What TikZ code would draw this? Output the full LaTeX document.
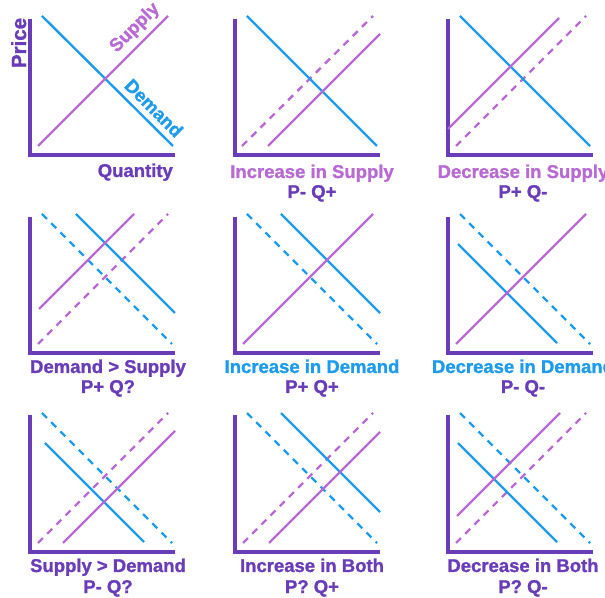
\documentclass[tikz,border=0pt]{standalone}
\usepackage{fontspec}
\setmainfont{Liberation Sans}[BoldFeatures={RawFeature={embolden=1.3}}]
\usetikzlibrary{positioning}
\definecolor{plum}{HTML}{6A3DB8}
\definecolor{lilac}{HTML}{B76BD2}
\definecolor{sky}{HTML}{1E9BEA}
\tikzset{
  axes/.style ={draw=plum,line width=3.2pt},
  sup/.style  ={draw=lilac,line width=2.4pt},
  dem/.style  ={draw=sky,line width=2.4pt},
  old/.style  ={dash pattern=on 7pt off 6pt},
  ttl/.style  ={font=\bfseries\fontsize{18.5}{20}\selectfont,anchor=base,inner sep=0pt},
  eff/.style  ={ttl,text=plum},
}

\begin{document}
\begin{tikzpicture}[x=1pt,y=1pt]
  \useasboundingbox (0,0) rectangle (605,597);

  % --- base market ---
  \begin{scope}[shift={(30,442)}]
    \draw[axes] (0,136) -- (0,0) -- (145,0);
    \draw[dem] (12,139) -- (143,9);
    \draw[sup] (8,9) -- (138,139);
    \node[ttl,text=plum,rotate=90,font=\bfseries\fontsize{20.5}{22}\selectfont] (price) at (-4,112) {Price};
    \node[ttl,text=plum,anchor=base east] (qty) at (143,-22) {Quantity};
    \node[ttl,text=lilac,anchor=center,rotate=45] (supname) at (105,127) {Supply};
    \node[ttl,text=sky,anchor=center,rotate=-45] (demname) at (124,47) {Demand};
  \end{scope}

  % --- supply up ---
  \begin{scope}[shift={(235,442)}]
    \draw[axes] (0,136) -- (0,0) -- (145,0);
    \draw[sup,old] (7,9) -- (138,139);
    \draw[dem] (12,139) -- (142,9);
    \draw[sup] (33,9) -- (145,121);
    \node[ttl,text=lilac] (supup) at (77,-23) {Increase in Supply};
    \node[eff] (supupfx) at (77,-43) {P- Q+};
  \end{scope}

  % --- supply down ---
  \begin{scope}[shift={(448,442)}]
    \draw[axes] (0,136) -- (0,0) -- (145,0);
    \draw[sup,old] (8,9) -- (138,139);
    \draw[dem] (12,139) -- (142,9);
    \draw[sup] (0,26) -- (111,137);
    \node[ttl,text=lilac] (supdn) at (75,-23) {Decrease in Supply};
    \node[eff] (supdnfx) at (75,-43) {P+ Q-};
  \end{scope}

  % --- demand beats supply ---
  \begin{scope}[shift={(30,244)}]
    \draw[axes] (0,136) -- (0,0) -- (145,0);
    \draw[dem,old] (12,139) -- (142,9);
    \draw[sup,old] (8,9) -- (138,139);
    \draw[dem] (46,139) -- (145,40);
    \draw[sup] (9,44) -- (104,139);
    \node[eff] (dgts) at (78,-20) {Demand > Supply};
    \node[eff] (dgtsfx) at (78,-40) {P+ Q?};
  \end{scope}

  % --- demand up ---
  \begin{scope}[shift={(235,244)}]
    \draw[axes] (0,136) -- (0,0) -- (145,0);
    \draw[dem,old] (12,139) -- (142,9);
    \draw[dem] (46,139) -- (145,40);
    \draw[sup] (8,9) -- (138,139);
    \node[ttl,text=sky] (demup) at (77,-20) {Increase in Demand};
    \node[eff] (demupfx) at (77,-40) {P+ Q+};
  \end{scope}

  % --- demand down ---
  \begin{scope}[shift={(448,244)}]
    \draw[axes] (0,136) -- (0,0) -- (145,0);
    \draw[dem,old] (12,139) -- (142,9);
    \draw[dem] (10,109) -- (109,10);
    \draw[sup] (8,9) -- (138,139);
    \node[ttl,text=sky] (demdn) at (75,-20) {Decrease in Demand};
    \node[eff] (demdnfx) at (75,-40) {P- Q-};
  \end{scope}

  % --- supply beats demand ---
  \begin{scope}[shift={(30,45)}]
    \draw[axes] (0,137) -- (0,0) -- (145,0);
    \draw[dem,old] (12,139) -- (142,9);
    \draw[sup,old] (8,9) -- (138,139);
    \draw[dem] (15,109) -- (114,10);
    \draw[sup] (33,9) -- (145,121);
    \node[eff] (sgtd) at (78,-20) {Supply > Demand};
    \node[eff] (sgtdfx) at (78,-41) {P- Q?};
  \end{scope}

  % --- both up ---
  \begin{scope}[shift={(235,45)}]
    \draw[axes] (0,137) -- (0,0) -- (145,0);
    \draw[dem,old] (12,139) -- (142,9);
    \draw[sup,old] (8,9) -- (138,139);
    \draw[dem] (46,139) -- (145,40);
    \draw[sup] (34,9) -- (145,120);
    \node[eff] (bothup) at (77,-20) {Increase in Both};
    \node[eff] (bothupfx) at (77,-41) {P? Q+};
  \end{scope}

  % --- both down ---
  \begin{scope}[shift={(448,45)}]
    \draw[axes] (0,137) -- (0,0) -- (145,0);
    \draw[dem,old] (12,139) -- (142,9);
    \draw[sup,old] (8,9) -- (138,139);
    \draw[dem] (10,109) -- (109,10);
    \draw[sup] (9,36) -- (112,139);
    \node[eff] (bothdn) at (75,-20) {Decrease in Both};
    \node[eff] (bothdnfx) at (75,-41) {P? Q-};
  \end{scope}
\end{tikzpicture}
\end{document}
